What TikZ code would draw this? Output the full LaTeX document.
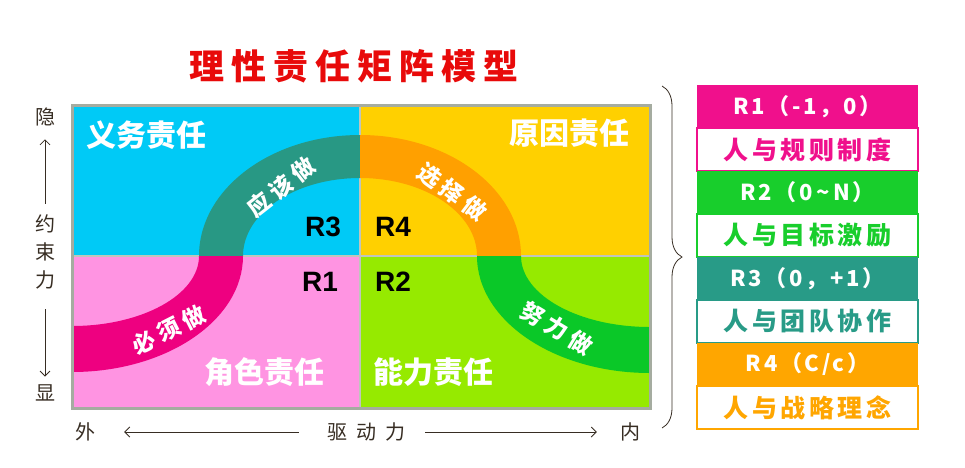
\documentclass[tikz,border=0pt]{standalone}
\usepackage{fontspec}
\usetikzlibrary{decorations.pathreplacing,arrows.meta}
\newfontfamily\cjk{Noto Sans CJK SC}
\setsansfont{Liberation Sans}
\definecolor{dutyBlue}{RGB}{0,202,246}
\definecolor{causeYellow}{RGB}{255,208,0}
\definecolor{rolePink}{RGB}{255,148,226}
\definecolor{abilityGreen}{RGB}{150,234,0}
\definecolor{shouldTeal}{RGB}{40,152,132}
\definecolor{chooseOrange}{RGB}{255,160,0}
\definecolor{mustMagenta}{RGB}{238,0,128}
\definecolor{striveGreen}{RGB}{10,200,40}
\definecolor{frameGray}{RGB}{165,172,160}
\definecolor{axisBrown}{RGB}{55,45,35}
\definecolor{titleRed}{RGB}{232,10,10}
\definecolor{headPink}{RGB}{240,16,140}
\definecolor{headGreen}{RGB}{24,206,44}
\definecolor{headTeal}{RGB}{40,155,135}
\definecolor{headOrange}{RGB}{255,166,0}

\tikzset{
  quadlabel/.style={inner sep=0pt,text=white,font={\cjk\bfseries\fontsize{30}{30}\selectfont}},
  rlabel/.style={inner sep=0pt,font={\sffamily\bfseries\fontsize{28}{28}\selectfont}},
  bandlabel/.style={inner sep=0pt,text=white,font={\cjk\bfseries\fontsize{23}{23}\selectfont\addfontfeature{LetterSpace=22}}},
  axislabel/.style={inner sep=0pt,text=axisBrown,font={\cjk\fontsize{20}{28}\selectfont}},
  axisarrow/.style={-{Straight Barb[length=5pt,width=10pt]},axisBrown,line width=0.8pt},
  legendhead/.style={minimum width=221pt,minimum height=43pt,inner sep=0pt,text=white,
    font={\cjk\bfseries\fontsize{22}{22}\selectfont\addfontfeature{LetterSpace=12}}},
  legendbody/.style={minimum width=221pt,minimum height=43pt,inner sep=0pt,fill=white,line width=2.5pt,
    font={\cjk\bfseries\fontsize{25}{25}\selectfont\addfontfeature{LetterSpace=14}}}
}

\begin{document}
\begin{tikzpicture}[x=1pt,y=-1pt]
\useasboundingbox (0,0) rectangle (965,467);

% title
\node[text=titleRed,font={\cjk\bfseries\fontsize{35}{35}\selectfont\addfontfeature{LetterSpace=20}}] (title) at (354,66) {理性责任矩阵模型};

% quadrants
\fill[dutyBlue] (72,105) rectangle (360,256);
\fill[causeYellow] (360,105) rectangle (650,256);
\fill[rolePink] (72,256) rectangle (360,408);
\fill[abilityGreen] (360,256) rectangle (650,408);
\draw[frameGray!70,line width=1.5pt] (360,105) -- (360,408);
\draw[frameGray!70,line width=1.5pt] (72,256) -- (650,256);

% the S band
\fill[shouldTeal] (199,256) arc[start angle=180,end angle=270,x radius=161,y radius=121]
  -- (360,178) arc[start angle=270,end angle=180,x radius=117,y radius=78] -- cycle;
\fill[chooseOrange] (360,135) arc[start angle=270,end angle=360,x radius=161,y radius=121]
  -- (477,256) arc[start angle=360,end angle=270,x radius=117,y radius=78] -- cycle;
\fill[mustMagenta] (243,256) arc[start angle=0,end angle=90,x radius=171,y radius=116]
  -- (72,326) arc[start angle=90,end angle=0,x radius=127,y radius=70] -- cycle;
\fill[striveGreen] (477,256) arc[start angle=180,end angle=90,x radius=173,y radius=117]
  -- (650,327) arc[start angle=90,end angle=180,x radius=129,y radius=71] -- cycle;

\draw[frameGray,line width=3pt] (72,105) rectangle (650,408);

% labels in the matrix
\node[quadlabel] (duty) at (146,135) {义务责任};
\node[quadlabel] (cause) at (569,133) {原因责任};
\node[quadlabel] (role) at (264,372) {角色责任};
\node[quadlabel] (ability) at (433,372) {能力责任};

\node[rlabel] (r3) at (323,227) {R3};
\node[rlabel] (r4) at (393,227) {R4};
\node[rlabel] (r1) at (320,282) {R1};
\node[rlabel] (r2) at (393,282) {R2};

\node[bandlabel,rotate=38] (should) at (281,187) {应该做};
\node[bandlabel,rotate=-37] (choose) at (452,192) {选择做};
\node[bandlabel,rotate=27] (must) at (169,330) {必须做};
\node[bandlabel,rotate=-31] (strive) at (557,328) {努力做};

% axes
\node[axislabel] (yin) at (45,117) {隐};
\node[axislabel,align=center] (constraint) at (45,252) {约\\束\\力};
\node[axislabel] (xian) at (45,393) {显};
\draw[axisarrow,shorten <=11pt,shorten >=13pt] (constraint) -- (yin);
\draw[axisarrow,shorten <=20pt,shorten >=8pt] (constraint) -- (xian);

\node[axislabel] (wai) at (85,432) {外};
\node[axislabel,font={\cjk\fontsize{20}{20}\selectfont\addfontfeature{LetterSpace=45}}] (drive) at (366,432) {驱动力};
\node[axislabel] (nei) at (630,432) {内};
\draw[axisarrow,shorten <=28pt,shorten >=29pt] (drive) -- (wai);
\draw[axisarrow,shorten <=20pt,shorten >=23pt] (drive) -- (nei);

% brace
\coordinate (braceTop) at (662,86);
\coordinate (braceBot) at (662,428);
\draw[axisBrown,line width=0.8pt,decorate,decoration={brace,amplitude=20pt}] (braceTop) -- (braceBot);

% legend
\node[legendhead,fill=headPink] (h1) at (807.5,106.5) {R1（-1，0）};
\node[legendbody,draw=headPink,text=headPink] (b1) at (807.5,149.5) {人与规则制度};
\node[legendhead,fill=headGreen] (h2) at (807.5,192.5) {R2（0\,\string~\,N）};
\node[legendbody,draw=headGreen,text=headGreen] (b2) at (807.5,235.5) {人与目标激励};
\node[legendhead,fill=headTeal] (h3) at (807.5,278.5) {R3（0，+1）};
\node[legendbody,draw=headTeal,text=headTeal] (b3) at (807.5,321.5) {人与团队协作};
\node[legendhead,fill=headOrange] (h4) at (807.5,364.5) {R4（C/c）};
\node[legendbody,draw=headOrange,text=headOrange] (b4) at (807.5,407.5) {人与战略理念};
\end{tikzpicture}
\end{document}
